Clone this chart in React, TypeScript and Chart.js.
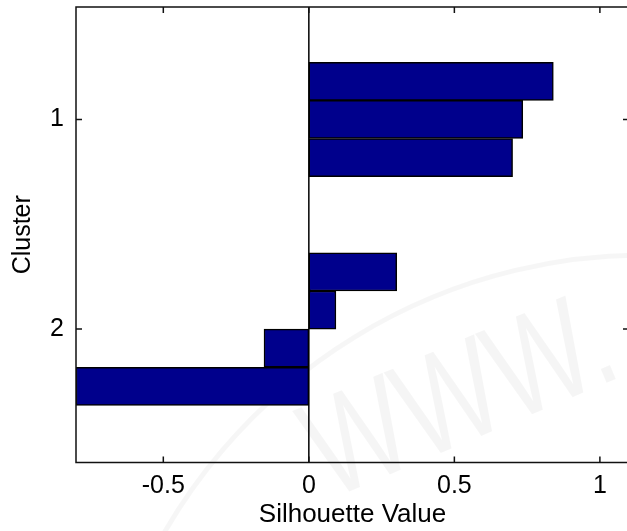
import { useEffect, useRef } from 'react';
import { Chart, registerables } from 'chart.js';

Chart.register(...registerables);

// Bar slots on the vertical axis (MATLAB silhouette layout, 2 empty slots between clusters)
const barPositions = [1, 2, 3, 6, 7, 8, 9];
// Silhouette value of each point
const silhouetteValues = [0.84, 0.735, 0.7, 0.302, 0.093, -0.154, -0.8];
// Cluster tick positions / labels
const clusterTickPositions = [2, 7.5];
const clusterTickLabels = ['1', '2'];
// X tick values
const xTickValues = [-0.5, 0, 0.5, 1];

const FONT = '"Liberation Sans", Arial, sans-serif';

const framePlugin = {
  id: 'matlabFrame',
  beforeDatasetsDraw(chart: any) {
    const { ctx, chartArea, scales } = chart;
    const { top, bottom } = chartArea;
    // faint watermark
    ctx.save();
    ctx.strokeStyle = 'rgba(0,0,0,0.035)';
    ctx.lineWidth = 5;
    ctx.beginPath();
    ctx.arc(645, 810, 555, Math.PI * 1.13, Math.PI * 1.52);
    ctx.stroke();
    ctx.translate(462, 402);
    ctx.rotate(-0.4);
    ctx.scale(0.75, 1);
    ctx.fillStyle = 'rgba(0,0,0,0.04)';
    ctx.font = `140px ${FONT}`;
    ctx.textAlign = 'center';
    ctx.textBaseline = 'middle';
    ctx.fillText('WWW.', 0, 0);
    ctx.restore();

    // zero line
    ctx.save();
    const x0 = scales.x.getPixelForValue(0);
    ctx.strokeStyle = '#000';
    ctx.lineWidth = 1.5;
    ctx.beginPath();
    ctx.moveTo(x0, top);
    ctx.lineTo(x0, bottom);
    ctx.stroke();
    ctx.restore();
  },
  afterDraw(chart: any) {
    const { ctx, chartArea, scales } = chart;
    const { left, right, top, bottom } = chartArea;
    ctx.save();
    ctx.strokeStyle = '#111';
    ctx.lineWidth = 1.5;
    ctx.beginPath();
    ctx.rect(left, top, right - left, bottom - top);
    ctx.stroke();
    const tl = 6;
    ctx.beginPath();
    xTickValues.forEach((v) => {
      const px = scales.x.getPixelForValue(v);
      ctx.moveTo(px, bottom);
      ctx.lineTo(px, bottom - tl);
      ctx.moveTo(px, top);
      ctx.lineTo(px, top + tl);
    });
    clusterTickPositions.forEach((v) => {
      const py = scales.y.getPixelForValue(v);
      ctx.moveTo(left, py);
      ctx.lineTo(left + tl, py);
      ctx.moveTo(right, py);
      ctx.lineTo(right - tl, py);
    });
    ctx.stroke();
    ctx.restore();
  },
};

export default function App() {
  const canvasRef = useRef<HTMLCanvasElement | null>(null);

  useEffect(() => {
    document.body.style.margin = '0';
    document.body.style.overflow = 'hidden';
    const canvas = canvasRef.current;
    if (!canvas) return;
    const chart = new Chart(canvas, {
      type: 'bar',
      data: {
        datasets: [
          {
            data: barPositions.map((p, i) => ({ x: silhouetteValues[i], y: p })),
            backgroundColor: 'rgb(0,0,140)',
            borderColor: '#000',
            borderWidth: 1.5,
            borderSkipped: false,
            barPercentage: 1,
            categoryPercentage: 1,
          } as any,
        ],
      },
      options: {
        animation: false,
        responsive: false,
        indexAxis: 'y',
        layout: { padding: { left: 0, top: 7, right: 11, bottom: 0 } },
        plugins: { legend: { display: false }, tooltip: { enabled: false } },
        scales: {
          x: {
            type: 'linear',
            offset: false,
            min: -0.8,
            max: 1.1,
            afterBuildTicks: (s: any) => {
              s.ticks = xTickValues.map((v) => ({ value: v }));
            },
            afterFit: (s: any) => {
              s.height = 68.5;
              s.paddingLeft = 0;
              s.paddingRight = 0;
            },
            grid: { display: false, drawTicks: false },
            border: { display: false },
            ticks: {
              padding: 9,
              color: '#000',
              font: { family: FONT, size: 25 },
              callback: (v: any) => String(v),
            },
            title: {
              display: true,
              text: 'Silhouette Value',
              color: '#000',
              font: { family: FONT, size: 26 },
              padding: { top: 0, bottom: 1 },
            },
          },
          y: {
            type: 'linear',
            offset: false,
            reverse: true,
            min: -0.95,
            max: 11,
            afterBuildTicks: (s: any) => {
              s.ticks = clusterTickPositions.map((v) => ({ value: v }));
            },
            afterFit: (s: any) => {
              s.width = 76;
              s.paddingTop = 0;
              s.paddingBottom = 0;
            },
            grid: { display: false, drawTicks: false, offset: false },
            border: { display: false },
            ticks: {
              padding: 12,
              color: '#000',
              font: { family: FONT, size: 25 },
              callback: (v: any) => {
                const i = clusterTickPositions.indexOf(Number(v));
                return i >= 0 ? clusterTickLabels[i] : '';
              },
            },
            title: {
              display: true,
              text: 'Cluster',
              color: '#000',
              font: { family: FONT, size: 25 },
              padding: { top: 8, bottom: 0 },
            },
          },
        },
      } as any,
      plugins: [framePlugin],
    });
    return () => chart.destroy();
  }, []);

  return (
    <div style={{ width: 640, height: 531, overflow: 'hidden' }}>
      <canvas ref={canvasRef} width={640} height={531} style={{ width: 640, height: 531, display: 'block' }} />
    </div>
  );
}
